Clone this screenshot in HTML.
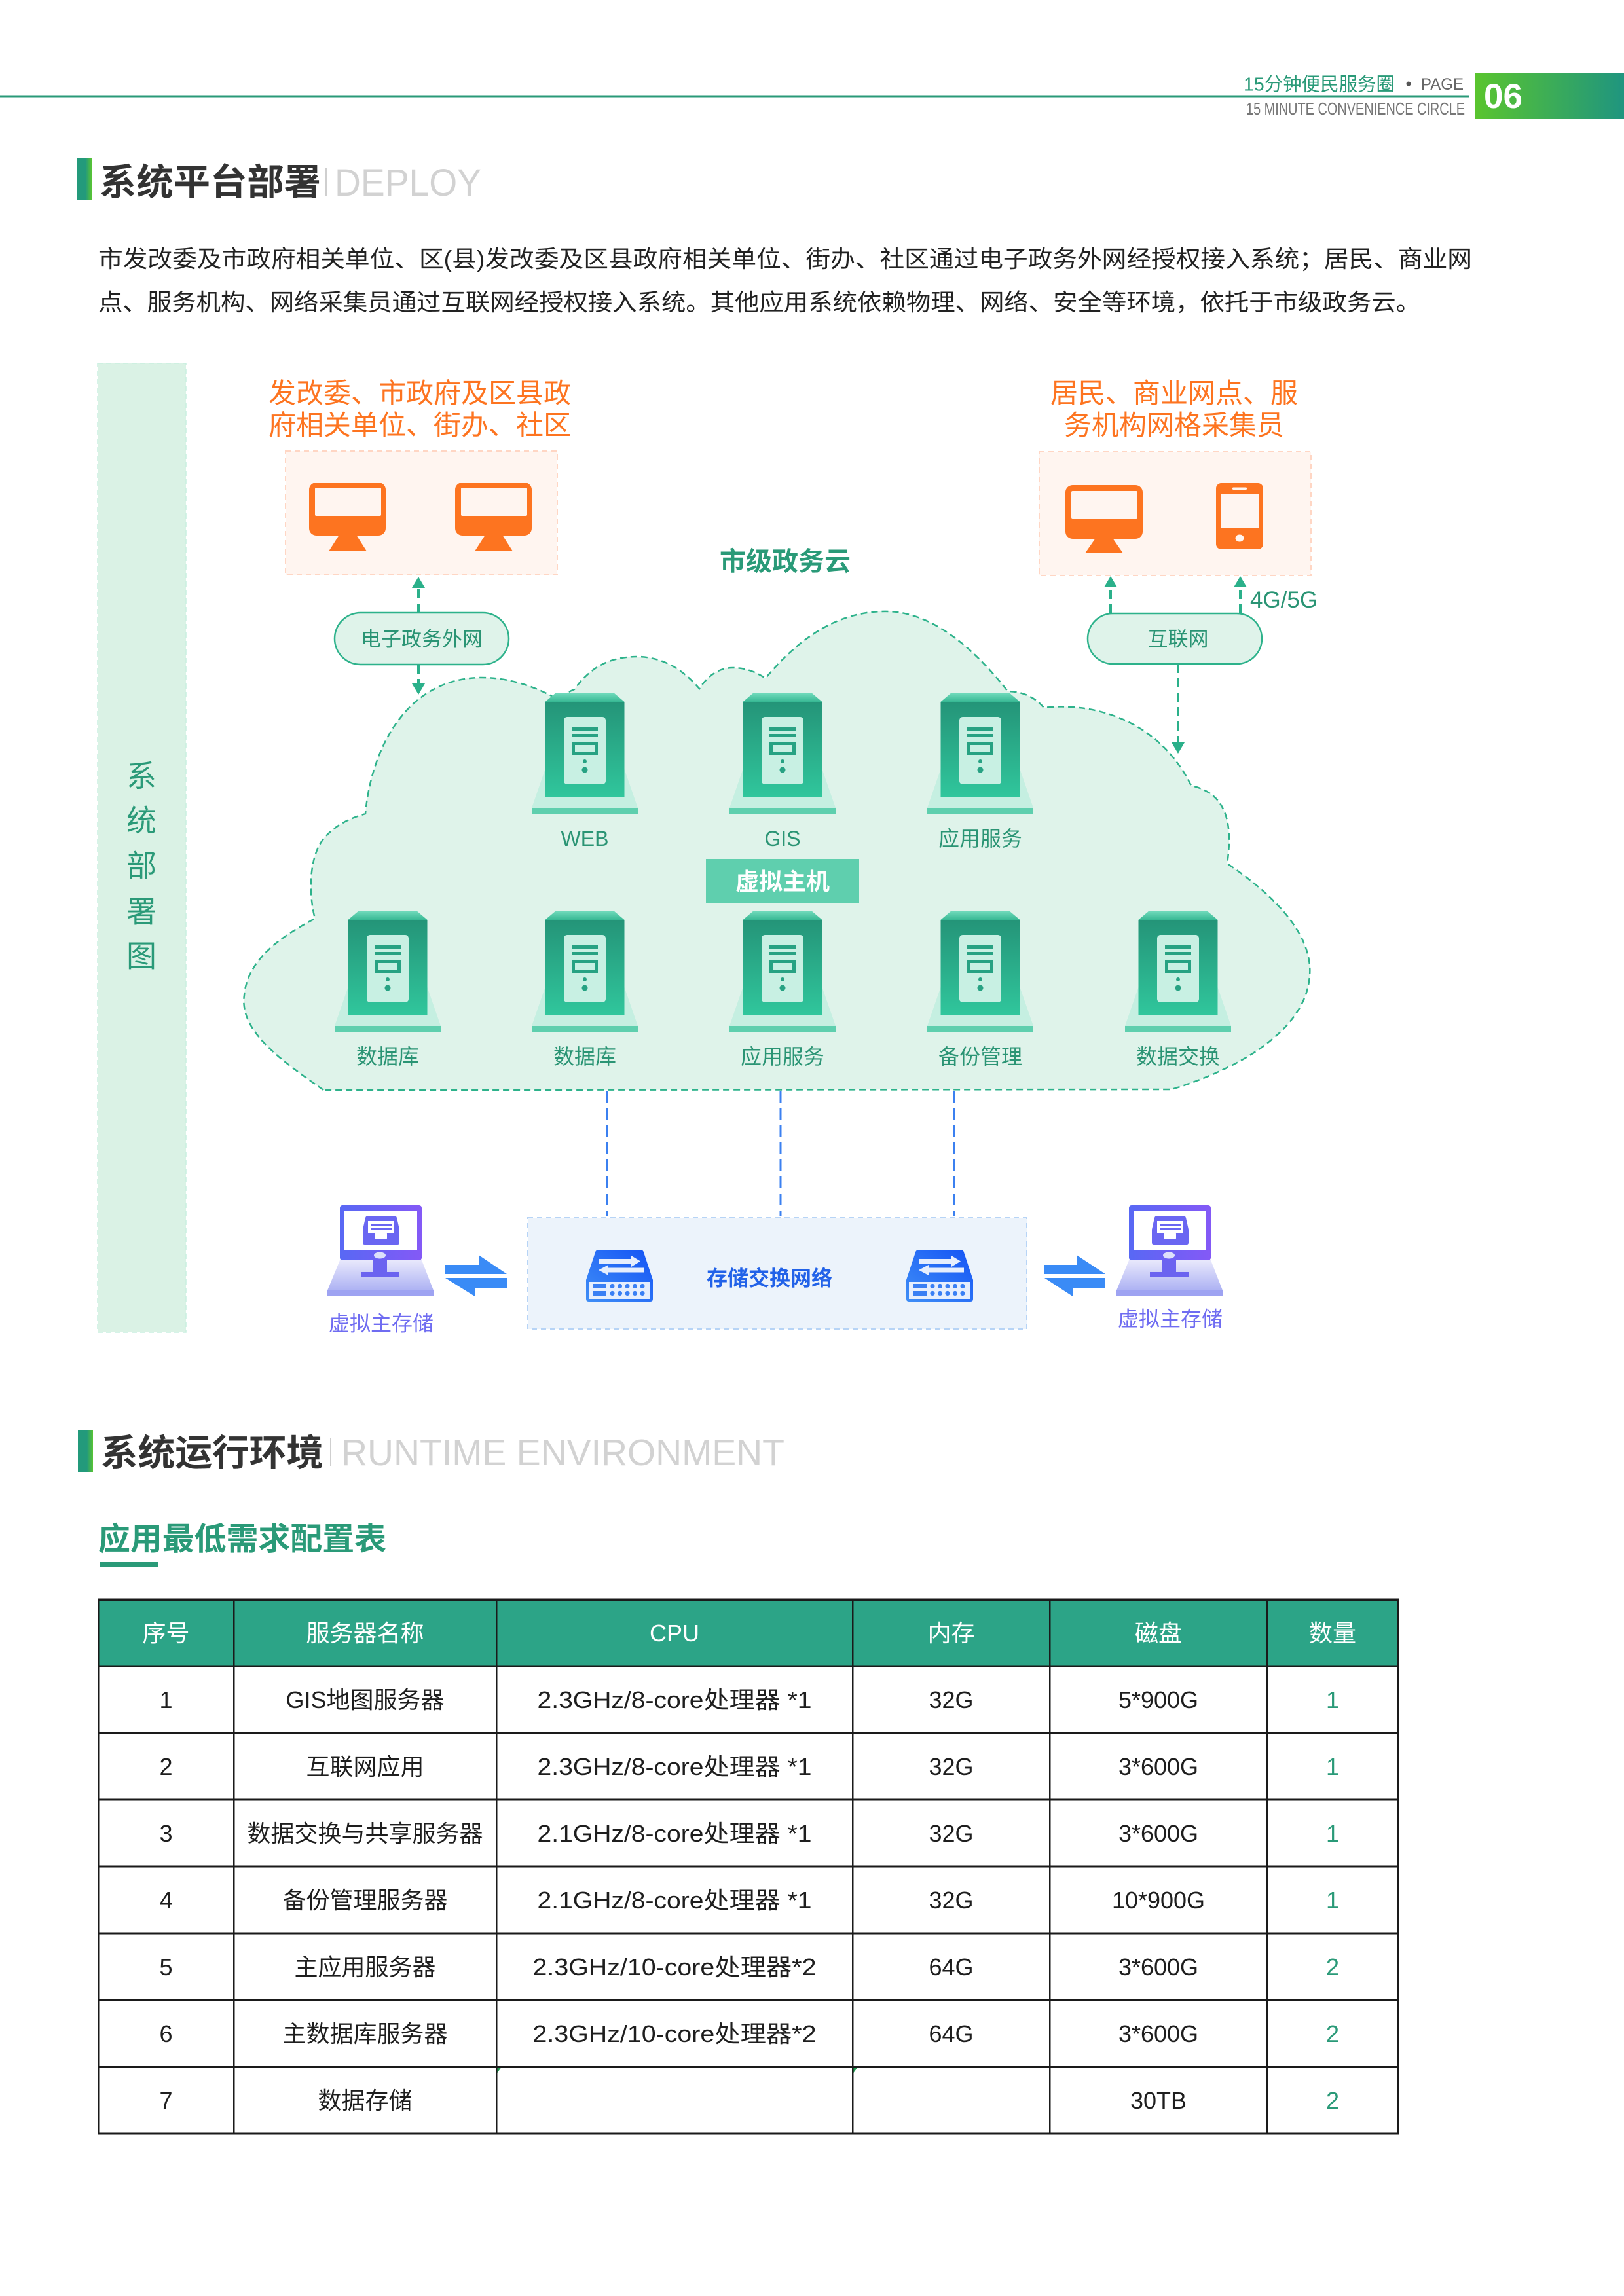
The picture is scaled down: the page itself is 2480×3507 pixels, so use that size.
<!DOCTYPE html>
<html><head><meta charset="utf-8"><style>
html,body{margin:0;padding:0;background:#fff;overflow:hidden;}
svg{display:block;}
text{font-family:"Liberation Sans","Noto Sans CJK SC",sans-serif;}
</style></head><body>
<svg width="2480" height="3507" viewBox="0 0 2480 3507" xmlns="http://www.w3.org/2000/svg">
<defs>
<linearGradient id="gHead" x1="0" y1="0" x2="1" y2="0"><stop offset="0" stop-color="#5ac52e"/><stop offset="1" stop-color="#1f957f"/></linearGradient>
<linearGradient id="gBar" x1="0" y1="0" x2="1" y2="0"><stop offset="0" stop-color="#239a7b"/><stop offset="0.6" stop-color="#239a7b"/><stop offset="1" stop-color="#58c433"/></linearGradient>
<linearGradient id="gBody" x1="0" y1="0" x2="0" y2="1"><stop offset="0" stop-color="#249478"/><stop offset="1" stop-color="#30c69c"/></linearGradient>
<linearGradient id="gTop" x1="0" y1="0" x2="0" y2="1"><stop offset="0" stop-color="#74dcbe"/><stop offset="1" stop-color="#37b893"/></linearGradient>
<linearGradient id="gBlue" x1="1" y1="0" x2="0" y2="1"><stop offset="0" stop-color="#1453f5"/><stop offset="1" stop-color="#3f8ef6"/></linearGradient>
<linearGradient id="gPur" x1="0" y1="0" x2="1" y2="0"><stop offset="0" stop-color="#5868f4"/><stop offset="1" stop-color="#8459f6"/></linearGradient>
<linearGradient id="gLav" x1="0" y1="0" x2="0" y2="1"><stop offset="0" stop-color="#e8e8fc"/><stop offset="1" stop-color="#adb2f3"/></linearGradient>
<g id="srv">
  <polygon points="-60.5,103 60.5,103 81,162 -81,162" fill="#c5efe1"/>
  <rect x="-81" y="162" width="162" height="10" fill="#5ecfae"/>
  <polygon points="-44,-14 44,-14 60.5,0 -60.5,0" fill="url(#gTop)"/>
  <rect x="-60.5" y="0" width="121" height="145" fill="url(#gBody)"/>
  <rect x="-32" y="23" width="64" height="103" rx="5" fill="#c8f0e3"/>
  <rect x="-20" y="39" width="40" height="5" fill="#27a283"/>
  <rect x="-20" y="49" width="40" height="5" fill="#27a283"/>
  <rect x="-17.5" y="63.5" width="35" height="15" fill="none" stroke="#27a283" stroke-width="5"/>
  <circle cx="0" cy="91" r="3" fill="#27a283"/>
  <circle cx="0" cy="104" r="4.5" fill="#27a283"/>
</g>
<g id="sw">
  <path d="M914 1909 L978 1909 Q982 1909 983 1913 L997 1955 L997 1984 Q997 1988 993 1988 L899 1988 Q895 1988 895 1984 L895 1955 L909 1913 Q910 1909 914 1909 Z" fill="url(#gBlue)"/>
  <rect x="899" y="1958" width="94" height="26" fill="#e6eefd"/>
  <rect x="905" y="1961" width="21" height="7" fill="#3a7ff4"/>
  <rect x="905" y="1972" width="21" height="7" fill="#3a7ff4"/>
  <g fill="#3a7ff4">
   <circle cx="935" cy="1964.5" r="3.6"/><circle cx="946.5" cy="1964.5" r="3.6"/><circle cx="958" cy="1964.5" r="3.6"/><circle cx="969.5" cy="1964.5" r="3.6"/><circle cx="981" cy="1964.5" r="3.6"/>
   <circle cx="935" cy="1975.5" r="3.6"/><circle cx="946.5" cy="1975.5" r="3.6"/><circle cx="958" cy="1975.5" r="3.6"/><circle cx="969.5" cy="1975.5" r="3.6"/><circle cx="981" cy="1975.5" r="3.6"/>
  </g>
  <polygon points="914,1923 964,1923 964,1918 978,1926.5 964,1935 964,1930 914,1930" fill="#e6eefd"/>
  <polygon points="983,1936.5 929,1936.5 929,1932 914,1940 929,1948 929,1943.5 983,1943.5" fill="#e6eefd"/>
</g>
<g id="vst">
  <polygon points="519,1925 644,1925 662,1971 500,1971" fill="url(#gLav)"/>
  <rect x="500" y="1971" width="162" height="9" fill="#9ea3f2"/>
  <rect x="570" y="1925" width="21" height="22" fill="#6b63f0"/>
  <rect x="551" y="1943" width="59" height="8" fill="#6b63f0"/>
  <rect x="519" y="1841" width="125" height="84" rx="4" fill="url(#gPur)"/>
  <rect x="526" y="1849" width="111" height="61" fill="#ffffff"/>
  <path d="M562 1857 L602 1857 Q605 1857 606 1860 L610 1878 L610 1898 Q610 1901 607 1901 L557 1901 Q554 1901 554 1898 L554 1878 L558 1860 Q559 1857 562 1857 Z" fill="#6a66f2"/>
  <rect x="562" y="1865" width="40" height="18" fill="#ffffff"/>
  <rect x="566" y="1869" width="32" height="3" fill="#6a66f2"/>
  <rect x="566" y="1875" width="32" height="3" fill="#6a66f2"/>
  <rect x="572" y="1883" width="19" height="10" rx="2" fill="#ffffff"/>
  <ellipse cx="580" cy="1917.5" rx="9" ry="5" fill="#dde0fb"/>
</g>
</defs>

<!-- HEADER -->
<rect x="0" y="145.5" width="2243" height="3" fill="#2a9a78"/>
<text x="1899" y="138.4" font-size="29" fill="#2a9a78" textLength="231" lengthAdjust="spacingAndGlyphs">15分钟便民服务圈</text>
<circle cx="2151" cy="128" r="3.5" fill="#555"/>
<text x="2170" y="137" font-size="25" fill="#666" textLength="65" lengthAdjust="spacingAndGlyphs">PAGE</text>
<text x="1903" y="175" font-size="26" fill="#777" textLength="334" lengthAdjust="spacingAndGlyphs">15 MINUTE CONVENIENCE CIRCLE</text>
<rect x="2252" y="112" width="228" height="70" fill="url(#gHead)"/>
<text x="2266" y="165" font-size="53" font-weight="bold" fill="#fff">06</text>

<!-- SECTION 1 TITLE -->
<rect x="117" y="241" width="23" height="64" fill="url(#gBar)"/>
<text x="152" y="298" font-size="56" font-weight="bold" fill="#333" textLength="338" lengthAdjust="spacingAndGlyphs">系统平台部署</text>
<rect x="497" y="257" width="2" height="43" fill="#cfcfcf"/>
<text x="511" y="299" font-size="58" fill="#d2d2d2" textLength="224" lengthAdjust="spacingAndGlyphs">DEPLOY</text>

<text x="150" y="408" font-size="36" fill="#222" textLength="2098" lengthAdjust="spacingAndGlyphs">市发改委及市政府相关单位、区(县)发改委及区县政府相关单位、街办、社区通过电子政务外网经授权接入系统；居民、商业网</text>
<text x="150" y="474" font-size="36" fill="#222" textLength="2019" lengthAdjust="spacingAndGlyphs">点、服务机构、网络采集员通过互联网经授权接入系统。其他应用系统依赖物理、网络、安全等环境，依托于市级政务云。</text>

<!-- SIDEBAR -->
<rect x="149" y="555" width="135" height="1480" fill="#daf2e5" stroke="#c9efe0" stroke-width="1.5" stroke-dasharray="8 5"/>
<g font-size="46" fill="#2a9a78" text-anchor="middle">
<text x="216" y="1201.5">系</text>
<text x="216" y="1269.5">统</text>
<text x="216" y="1338.5">部</text>
<text x="216" y="1408.5">署</text>
<text x="216" y="1476.5">图</text>
</g>

<!-- ORANGE GROUPS -->
<g font-size="42" fill="#fd7420" text-anchor="middle">
<text x="641" y="615">发改委、市政府及区县政</text>
<text x="641" y="664">府相关单位、街办、社区</text>
<text x="1793" y="615">居民、商业网点、服</text>
<text x="1793" y="664">务机构网格采集员</text>
</g>
<rect x="436" y="689" width="415" height="189" fill="#fff5f0" stroke="#ffd6c4" stroke-width="2" stroke-dasharray="8 6"/>
<rect x="1587" y="690" width="415" height="189" fill="#fff5f0" stroke="#ffd6c4" stroke-width="2" stroke-dasharray="8 6"/>
<g fill="#fd7420">
 <rect x="472" y="737" width="117" height="81" rx="11"/>
 <polygon points="518,817 544,817 560,842 502,842"/>
 <rect x="695" y="737" width="117" height="81" rx="11"/>
 <polygon points="741,817 767,817 783,842 725,842"/>
 <rect x="1627" y="741" width="118" height="82" rx="11"/>
 <polygon points="1673,822 1699,822 1715,845 1657,845"/>
 <rect x="1857" y="738" width="72" height="101" rx="8"/>
</g>
<g fill="#fff5f0">
 <rect x="481" y="745" width="101" height="43" rx="2"/>
 <rect x="704" y="745" width="101" height="43" rx="2"/>
 <rect x="1636" y="750" width="101" height="42" rx="2"/>
 <rect x="1864" y="754" width="58" height="53" rx="1"/>
 <rect x="1882" y="744.5" width="22" height="3.5" rx="1.5"/>
 <ellipse cx="1893" cy="822" rx="6.5" ry="5.5"/>
</g>

<!-- CLOUD -->
<path d="M494 1665 C430 1620 365 1575 373 1520 C378 1465 430 1430 481 1403 C472 1370 470 1310 495 1280 C515 1258 535 1250 558 1243 C565 1160 610 1040 730 1035 C775 1034 815 1048 848 1066 L877 1053 C905 1015 935 1003 975 1003 C1015 1004 1045 1025 1068 1052 C1082 1030 1100 1020 1119 1020 C1140 1020 1155 1027 1169 1036 C1220 975 1280 932 1357 934 C1430 936 1495 1000 1539 1056 C1560 1056 1580 1064 1594 1081 C1670 1072 1770 1100 1819 1200 C1865 1210 1885 1245 1874 1319 C1950 1370 2005 1430 2000 1490 C1995 1570 1900 1630 1789 1664 Z" fill="#dff3ea" stroke="#2db28b" stroke-width="2.5" stroke-dasharray="10 6"/>
<text x="1199" y="871" font-size="40" font-weight="bold" fill="#2a9a78" text-anchor="middle">市级政务云</text>

<!-- PILLS & ARROWS -->
<g stroke="#2bb08a" stroke-width="4" stroke-dasharray="14 8" fill="none">
 <line x1="639" y1="936" x2="639" y2="897"/>
 <line x1="639" y1="1015" x2="639" y2="1046"/>
 <line x1="1696" y1="937" x2="1696" y2="897"/>
 <line x1="1894" y1="937" x2="1894" y2="897"/>
 <line x1="1799" y1="1014" x2="1799" y2="1136"/>
</g>
<g fill="#2bb08a">
 <polygon points="639,881 629,898 649,898"/>
 <polygon points="639,1061 629,1044 649,1044"/>
 <polygon points="1696,880 1686,897 1706,897"/>
 <polygon points="1894,880 1884,897 1904,897"/>
 <polygon points="1799,1151 1789,1134 1809,1134"/>
</g>
<rect x="511" y="936" width="266" height="79" rx="39.5" fill="#dff3ea" stroke="#2db28b" stroke-width="2.5"/>
<rect x="1661" y="937" width="266" height="77" rx="38.5" fill="#dff3ea" stroke="#2db28b" stroke-width="2.5"/>
<text x="644" y="987" font-size="31" fill="#2a9474" text-anchor="middle">电子政务外网</text>
<text x="1799" y="987" font-size="31" fill="#2a9474" text-anchor="middle">互联网</text>
<text x="1909" y="928" font-size="35" fill="#2a9474">4G/5G</text>

<!-- SERVERS -->
<use href="#srv" x="893" y="1072"/>
<use href="#srv" x="1195" y="1072"/>
<use href="#srv" x="1497" y="1072"/>
<use href="#srv" x="592" y="1405"/>
<use href="#srv" x="893" y="1405"/>
<use href="#srv" x="1195" y="1405"/>
<use href="#srv" x="1497" y="1405"/>
<use href="#srv" x="1799" y="1405"/>
<g font-size="32" fill="#2a9474" text-anchor="middle">
<text x="893" y="1292">WEB</text>
<text x="1195" y="1292">GIS</text>
<text x="1497" y="1292">应用服务</text>
<text x="592" y="1625">数据库</text>
<text x="893" y="1625">数据库</text>
<text x="1195" y="1625">应用服务</text>
<text x="1497" y="1625">备份管理</text>
<text x="1799" y="1625">数据交换</text>
</g>
<rect x="1078" y="1312" width="234" height="68" fill="#5fcfae"/>
<text x="1195" y="1359" font-size="36" font-weight="bold" fill="#fff" text-anchor="middle">虚拟主机</text>

<!-- STORAGE -->
<g stroke="#3b80f0" stroke-width="3" stroke-dasharray="18 8">
 <line x1="927" y1="1667" x2="927" y2="1858"/>
 <line x1="1192" y1="1667" x2="1192" y2="1858"/>
 <line x1="1457" y1="1667" x2="1457" y2="1858"/>
</g>
<rect x="806" y="1860" width="762" height="170" fill="#ecf3fb" stroke="#b7d4f6" stroke-width="2" stroke-dasharray="8 6"/>
<use href="#sw"/>
<use href="#sw" x="489"/>
<text x="1175" y="1963.5" font-size="32" font-weight="bold" fill="#2262e8" text-anchor="middle">存储交换网络</text>
<g fill="#3a8bf6">
 <polygon points="680,1932 731,1932 731,1917 774,1946 680,1946"/>
 <polygon points="774,1952 680,1952 725,1980 725,1967 774,1967"/>
 <polygon points="1595,1932 1644,1932 1644,1917 1688,1946 1595,1946"/>
 <polygon points="1688,1952 1595,1952 1638,1980 1638,1967 1688,1967"/>
</g>
<use href="#vst"/>
<use href="#vst" x="1205"/>
<text x="582" y="2032.5" font-size="32" fill="#6f6cf1" text-anchor="middle">虚拟主存储</text>
<text x="1787" y="2025.5" font-size="32" fill="#6f6cf1" text-anchor="middle">虚拟主存储</text>

<!-- SECTION 2 TITLE -->
<rect x="119" y="2185" width="23" height="64" fill="url(#gBar)"/>
<text x="154" y="2239" font-size="56" font-weight="bold" fill="#333" textLength="340" lengthAdjust="spacingAndGlyphs">系统运行环境</text>
<rect x="504" y="2197" width="2" height="42" fill="#cfcfcf"/>
<text x="521" y="2238" font-size="57" fill="#d2d2d2" textLength="677" lengthAdjust="spacingAndGlyphs">RUNTIME ENVIRONMENT</text>

<text x="150" y="2367" font-size="48" font-weight="bold" fill="#2a9a78" textLength="440" lengthAdjust="spacingAndGlyphs">应用最低需求配置表</text>
<rect x="152" y="2386" width="90" height="7" fill="#2a9a78"/>

<!-- TABLE -->
<rect x="150" y="2443" width="1985" height="102" fill="#2ca487"/>
<g font-size="36" fill="#fff" text-anchor="middle">
<text x="253.5" y="2507">序号</text>
<text x="557.5" y="2507">服务器名称</text>
<text x="1030" y="2507">CPU</text>
<text x="1452.5" y="2507">内存</text>
<text x="1769" y="2507">磁盘</text>
<text x="2035" y="2507">数量</text>
</g>
<g fill="#1a1a1a">
<rect x="149" y="2441.5" width="1988" height="3.5"/>
<rect x="149" y="2543.5" width="1988" height="3"/>
<rect x="149" y="2645.5" width="1988" height="3"/>
<rect x="149" y="2747.5" width="1988" height="3"/>
<rect x="149" y="2849.5" width="1988" height="3"/>
<rect x="149" y="2951.5" width="1988" height="3"/>
<rect x="149" y="3053.5" width="1988" height="3"/>
<rect x="149" y="3155.5" width="1988" height="3"/>
<rect x="149" y="3257.5" width="1988" height="3"/>
<rect x="149" y="2442" width="2.5" height="818"/>
<rect x="356" y="2442" width="2.5" height="818"/>
<rect x="757" y="2442" width="2.5" height="818"/>
<rect x="1301" y="2442" width="2.5" height="818"/>
<rect x="1602" y="2442" width="2.5" height="818"/>
<rect x="1934" y="2442" width="2.5" height="818"/>
<rect x="2134" y="2442" width="2.5" height="818"/>
</g>
<polygon points="759.5,3158.5 765,3158.5 759.5,3166" fill="#1f9a50"/>
<polygon points="1303.5,3158.5 1309,3158.5 1303.5,3166" fill="#1f9a50"/>

<g font-size="36" fill="#1e1e1e" text-anchor="middle">
<text x="253.5" y="2609">1</text>
<text x="557.5" y="2609">GIS地图服务器</text>
<text x="1030" y="2609" textLength="419" lengthAdjust="spacingAndGlyphs">2.3GHz/8-core处理器 *1</text>
<text x="1452.5" y="2609">32G</text>
<text x="1769" y="2609">5*900G</text>

<text x="253.5" y="2711">2</text>
<text x="557.5" y="2711">互联网应用</text>
<text x="1030" y="2711" textLength="419" lengthAdjust="spacingAndGlyphs">2.3GHz/8-core处理器 *1</text>
<text x="1452.5" y="2711">32G</text>
<text x="1769" y="2711">3*600G</text>

<text x="253.5" y="2813">3</text>
<text x="557.5" y="2813">数据交换与共享服务器</text>
<text x="1030" y="2813" textLength="419" lengthAdjust="spacingAndGlyphs">2.1GHz/8-core处理器 *1</text>
<text x="1452.5" y="2813">32G</text>
<text x="1769" y="2813">3*600G</text>

<text x="253.5" y="2915">4</text>
<text x="557.5" y="2915">备份管理服务器</text>
<text x="1030" y="2915" textLength="419" lengthAdjust="spacingAndGlyphs">2.1GHz/8-core处理器 *1</text>
<text x="1452.5" y="2915">32G</text>
<text x="1769" y="2915">10*900G</text>

<text x="253.5" y="3017">5</text>
<text x="557.5" y="3017">主应用服务器</text>
<text x="1030" y="3017" textLength="433" lengthAdjust="spacingAndGlyphs">2.3GHz/10-core处理器*2</text>
<text x="1452.5" y="3017">64G</text>
<text x="1769" y="3017">3*600G</text>

<text x="253.5" y="3119">6</text>
<text x="557.5" y="3119">主数据库服务器</text>
<text x="1030" y="3119" textLength="433" lengthAdjust="spacingAndGlyphs">2.3GHz/10-core处理器*2</text>
<text x="1452.5" y="3119">64G</text>
<text x="1769" y="3119">3*600G</text>

<text x="253.5" y="3221">7</text>
<text x="557.5" y="3221">数据存储</text>
<text x="1769" y="3221">30TB</text>
</g>
<g font-size="36" fill="#2a9a78" text-anchor="middle">
<text x="2035" y="2609">1</text>
<text x="2035" y="2711">1</text>
<text x="2035" y="2813">1</text>
<text x="2035" y="2915">1</text>
<text x="2035" y="3017">2</text>
<text x="2035" y="3119">2</text>
<text x="2035" y="3221">2</text>
</g>
</svg>
</body></html>
